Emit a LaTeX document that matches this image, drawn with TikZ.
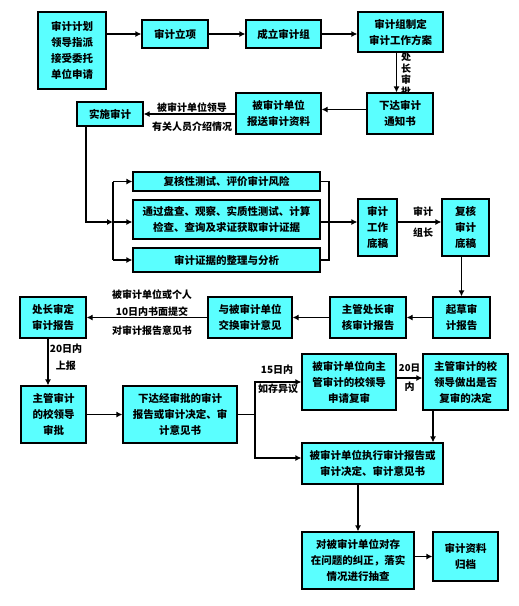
\documentclass[tikz,border=0pt]{standalone}
\usepackage{fontspec}
\newfontfamily\cjk{Noto Sans CJK SC}
\usetikzlibrary{arrows.meta}
\definecolor{boxcyan}{RGB}{90,255,255}
\tikzset{
  box/.style={draw,fill=boxcyan,line width=1.2pt,align=center,inner sep=0pt,
    font=\cjk\bfseries\fontsize{10.5}{16}\selectfont},
  flow/.style={line width=1.5pt,-{Latex[length=6pt,width=6pt]}},
  wire/.style={line width=1.5pt},
  lab/.style={inner sep=0pt,font=\cjk\bfseries\fontsize{10}{12}\selectfont}
}
\begin{document}
\begin{tikzpicture}[x=1pt,y=-1pt]
\useasboundingbox (0,0) rectangle (519,606);

% top row
\node[box,minimum width=68,minimum height=77] (plan) at (72,50.5) {审计计划\\领导指派\\接受委托\\单位申请};
\node[box,minimum width=66,minimum height=28] (lixiang) at (175,34) {审计立项};
\node[box,minimum width=75,minimum height=28] (zu) at (283.5,34) {成立审计组};
\node[box,minimum width=85,minimum height=40] (fangan) at (400.5,32) {审计组制定\\审计工作方案};
\node[lab,align=center,font=\cjk\bfseries\fontsize{10}{11.5}\selectfont] (chuzhang) at (406,74) {处\\长\\审\\批};
\node[box,minimum width=66,minimum height=41] (tongzhi) at (400,113.5) {下达审计\\通知书};
\node[box,minimum width=85,minimum height=41] (ziliao) at (278.5,113.5) {被审计单位\\报送审计资料};
\node[box,minimum width=66,minimum height=24] (shishi) at (110,114) {实施审计};

% middle
\node[box,minimum width=187,minimum height=19] (fuhe) at (226.5,181.5) {复核性测试、评价审计风险};
\node[box,minimum width=187,minimum height=39] (huoqu) at (226.5,219.5) {通过盘查、观察、实质性测试、计算\\检查、查询及求证获取审计证据};
\node[box,minimum width=187,minimum height=24] (zhengli) at (226.5,260) {审计证据的整理与分析};
\node[box,minimum width=39,minimum height=57] (gaozhi) at (377.5,227.5) {审计\\工作\\底稿};
\node[box,minimum width=47,minimum height=57] (fuhegao) at (465.5,227.5) {复核\\审计\\底稿};

% report row
\node[box,minimum width=57,minimum height=41] (qicao) at (461.5,317.5) {起草审\\计报告};
\node[box,minimum width=76,minimum height=41] (shenhe) at (368,317.5) {主管处长审\\核审计报告};
\node[box,minimum width=84,minimum height=41] (jiaohuan) at (250,317.5) {与被审计单位\\交换审计意见};
\node[box,minimum width=66,minimum height=41] (shending) at (53,317.5) {处长审定\\审计报告};

% lower part
\node[box,minimum width=65,minimum height=57] (pizhun) at (53.5,414.5) {主管审计\\的校领导\\审批};
\node[box,minimum width=114,minimum height=57] (xiada) at (180,414.5) {下达经审批的审计\\报告或审计决定、审\\计意见书};
\node[box,minimum width=94,minimum height=56] (fushen) at (349,382) {被审计单位向主\\管审计的校领导\\申请复审};
\node[box,minimum width=85,minimum height=56] (jueding) at (465.5,382) {主管审计的校\\领导做出是否\\复审的决定};
\node[box,minimum width=141,minimum height=41] (zhixing) at (372.5,463.5) {被审计单位执行审计报告或\\审计决定、审计意见书};
\node[box,minimum width=112,minimum height=57] (chouzha) at (358,560.5) {对被审计单位对存\\在问题的纠正，落实\\情况进行抽查};
\node[box,minimum width=65,minimum height=49] (guidang) at (465.5,556.5) {审计资料\\归档};

% connectors, top
\draw[flow] (plan.east |- lixiang) -- (lixiang);
\draw[flow] (lixiang) -- (zu);
\draw[flow] (zu) -- (zu -| fangan.west);
\draw[flow] ([xshift=-4pt]fangan.south) -- ([xshift=-4pt]fangan.south |- tongzhi.north);
\draw[flow] ([yshift=4pt]tongzhi.west) -- ([yshift=4pt]tongzhi.west -| ziliao.east);
\draw[flow] (ziliao.west |- shishi) -- (shishi.east);
\node[lab] (lingdao) at (192,108) {被审计单位领导};
\node[lab] (jieshao) at (192,127) {有关人员介绍情况};

% buses
\coordinate (lbus) at (113,222);
\coordinate (rbus) at (329,222);
\draw[flow] ([xshift=-24pt]shishi.south) |- (lbus);
\draw[wire] (lbus |- fuhe) -- (lbus |- zhengli);
\draw[flow] (lbus |- fuhe) -- (fuhe.west);
\draw[flow] (lbus) -- (lbus -| huoqu.west);
\draw[flow] (lbus |- zhengli) -- (zhengli.west);
\draw[wire] (fuhe.east) -| (rbus |- zhengli) -- (zhengli.east);
\draw[flow] (rbus -| huoqu.east) -- (rbus -| gaozhi.west);
\draw[flow] (rbus -| gaozhi.east) -- (rbus -| fuhegao.west);
\node[lab] (shenji) at (423,212) {审计};
\node[lab] (zuzhang) at (423,233) {组长};
\draw[flow] (fuhegao.south -| qicao) -- (qicao.north);

% report row
\draw[flow] (qicao) -- (shenhe);
\draw[flow] (shenhe) -- (jiaohuan);
\draw[flow] (jiaohuan) -- (shending);
\node[lab] (geren) at (152,295) {被审计单位或个人};
\node[lab] (shiri) at (152,312) {10日内书面提交};
\node[lab] (yijian) at (152,331) {对审计报告意见书};
\draw[flow] ([xshift=-5pt]shending.south) -- ([xshift=-5pt]shending.south |- pizhun.north);
\node[lab] (ershiri) at (66,349) {20日内};
\node[lab] (shangbao) at (66,366) {上报};

% lower part
\draw[flow] (pizhun) -- (xiada);
\coordinate (sbus) at (255,414.5);
\draw[wire] (xiada.east) -- (sbus);
\draw[flow] (sbus) |- (fushen.west);
\draw[flow] (sbus) |- ([yshift=5.5pt]zhixing.west);
\node[lab] (shiwuri) at (277,370) {15日内};
\node[lab] (yiyi) at (278,389) {如存异议};
\draw[flow] ([yshift=4pt]fushen.east) -- ([yshift=4pt]jueding.west);
\node[lab,font=\cjk\bfseries\fontsize{9.5}{12}\selectfont] (ershi) at (409.5,368) {20日};
\node[lab] (nei) at (409.5,387) {内};
\draw[flow] ([xshift=-32.5pt]jueding.south) -- ([xshift=-32.5pt]jueding.south |- zhixing.north);
\draw[flow] (zhixing.south -| chouzha) -- (chouzha.north);
\draw[flow] (chouzha.east |- guidang) -- (guidang.west);

\end{tikzpicture}
\end{document}
